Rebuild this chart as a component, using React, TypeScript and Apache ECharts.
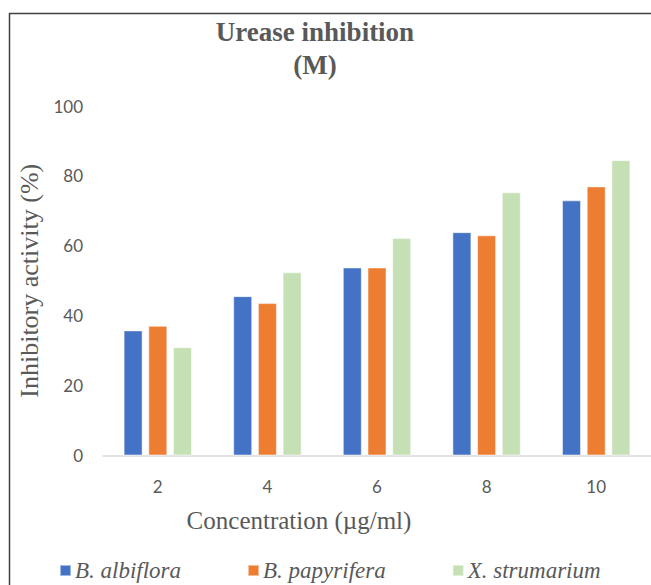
import React, { useEffect, useRef } from "react";
import * as echarts from "echarts";

const categories = ["2", "4", "6", "8", "10"];
const seriesNames = ["B. albiflora", "B. papyrifera", "X. strumarium"];
const albiflora = [35.8, 45.6, 53.8, 63.9, 73.0];
const papyrifera = [37.1, 43.6, 53.8, 63.0, 77.0];
const strumarium = [31.0, 52.4, 62.2, 75.3, 84.5];
const yMin = 0;
const yMax = 100;
const yInterval = 20;
const colors = ["#4472C4", "#ED7D31", "#C5E0B4"];

const SERIF = "'Liberation Serif', 'Times New Roman', serif";
const SANS = "Lato, 'Open Sans', sans-serif";
const GRAY = "#595959";

export default function App() {
  const ref = useRef<HTMLDivElement>(null);
  useEffect(() => {
    if (!ref.current) return;
    const chart = echarts.init(ref.current, undefined, { renderer: "svg" });
    const values = [albiflora, papyrifera, strumarium];
    chart.setOption({
      animation: false,
      backgroundColor: "#ffffff",
      title: {
        text: "Urease inhibition\n(M)",
        left: 315,
        textAlign: "center",
        top: 15,
        padding: 0,
        textStyle: {
          fontFamily: SERIF,
          fontWeight: "bold",
          fontSize: 27,
          lineHeight: 33,
          color: GRAY,
        },
      },
      legend: {
        left: 59,
        top: 559,
        padding: 0,
        icon: "rect",
        itemWidth: 11,
        itemHeight: 11,
        itemGap: 66,
        textStyle: {
          fontFamily: SERIF,
          fontStyle: "italic",
          fontSize: 23,
          color: GRAY,
          padding: [0, 0, 0, -1],
        },
        data: seriesNames,
      },
      grid: { left: 103, right: -2, top: 106, bottom: 129.5, containLabel: false },
      xAxis: {
        type: "category",
        data: categories,
        axisLine: { lineStyle: { color: "#D9D9D9", width: 1.5 } },
        axisTick: { show: false },
        axisLabel: { color: GRAY, fontFamily: SANS, fontSize: 17, margin: 22 },
      },
      yAxis: {
        type: "value",
        min: yMin,
        max: yMax,
        interval: yInterval,
        name: "Inhibitory activity (%)",
        nameLocation: "middle",
        nameGap: 54,
        nameTextStyle: { fontFamily: SERIF, fontSize: 26, color: GRAY },
        axisLine: { show: false },
        axisTick: { show: false },
        splitLine: { show: false },
        axisLabel: { color: GRAY, fontFamily: SANS, fontSize: 17, margin: 20 },
      },
      graphic: [
        {
          type: "rect",
          shape: { x: 9.5, y: 13.5, width: 800, height: 800 },
          style: { fill: "none", stroke: "#404040", lineWidth: 1.5 },
          silent: true,
          z: 100,
        },
        {
          type: "text",
          x: 299,
          y: 520,
          style: {
            text: "Concentration (µg/ml)",
            fontFamily: SERIF,
            fontSize: 25,
            fill: GRAY,
            align: "center",
            verticalAlign: "middle",
          },
        },
      ],
      series: seriesNames.map((name, i) => ({
        name,
        type: "bar",
        data: values[i],
        barWidth: 19,
        barGap: "30%",
        itemStyle: {
          color: colors[i],
          borderColor: "rgba(255,255,255,0.5)",
          borderWidth: 1,
        },
      })),
    });
    return () => chart.dispose();
  }, []);
  return (
    <div
      ref={ref}
      style={{ position: "fixed", left: 0, top: 0, width: 651, height: 585 }}
    />
  );
}
